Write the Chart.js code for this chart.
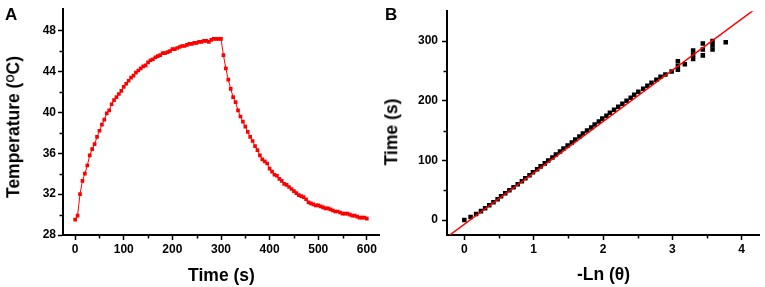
<!DOCTYPE html>
<html><head><meta charset="utf-8">
<script src="https://cdn.jsdelivr.net/npm/chart.js@4.4.1/dist/chart.umd.min.js"></script>
<style>
html,body{margin:0;padding:0;background:#fff;width:765px;height:287px;overflow:hidden;position:relative;font-family:"Liberation Sans",Arial,sans-serif;}
canvas{position:absolute;top:0;}
#cA{left:0}
#cB{left:383px}
.lbl{position:absolute;font-weight:bold;color:#000;white-space:nowrap;line-height:1;}
.panel{font-size:17px;}
.title{font-size:17.5px;transform:translate(-50%,-50%);}
.rot{transform:translate(-50%,-50%) rotate(-90deg);}
sup{font-size:0.6em;position:relative;top:-0.45em;vertical-align:baseline;}
</style></head><body>
<canvas id="cA" width="383" height="287"></canvas>
<canvas id="cB" width="382" height="287"></canvas>
<div class="lbl panel" style="left:5px;top:6px">A</div>
<div class="lbl panel" style="left:385px;top:6px">B</div>
<div class="lbl title rot" style="left:14px;top:127px">Temperature (<sup>O</sup>C)</div>
<div class="lbl title" style="left:221.5px;top:276px">Time (s)</div>
<div class="lbl title rot" style="left:392px;top:132px">Time (s)</div>
<div class="lbl title" style="left:603.5px;top:275px">-Ln (θ)</div>
<script>
// ---- Panel A: heating / cooling curve ----
const heatTime = [0,5,10,15,20,25,30,35,40,45,50,55,60,65,70,75,80,85,90,95,100,105,110,115,120,125,130,135,140,145,150,155,160,165,170,175,180,185,190,195,200,205,210,215,220,225,230,235,240,245,250,255,260,265,270,275,280,285,290,295,300];
const heatTemp = [29.5,29.9,32.0,33.3,34.0,34.8,35.8,36.4,36.9,37.6,38.2,38.8,39.3,39.9,40.2,40.8,41.2,41.5,41.8,42.1,42.5,42.8,43.1,43.4,43.6,43.9,44.1,44.3,44.5,44.6,44.9,45.1,45.2,45.4,45.5,45.6,45.8,45.8,45.9,46.0,46.2,46.2,46.3,46.4,46.5,46.5,46.6,46.7,46.7,46.8,46.8,46.9,46.9,47.0,47.0,46.9,47.1,47.2,47.2,47.2,47.2];
const coolTime = [305,310,315,320,325,330,335,340,345,350,355,360,365,370,375,380,385,390,395,400,405,410,415,420,425,430,435,440,445,450,455,460,465,470,475,480,485,490,495,500,505,510,515,520,525,530,535,540,545,550,555,560,565,570,575,580,585,590,595,600];
const coolTemp = [45.6,44.3,43.2,42.3,41.5,41.0,40.2,39.6,39.1,38.6,38.1,37.6,37.2,36.7,36.3,35.8,35.4,35.2,35.0,34.5,34.2,33.9,33.8,33.5,33.3,33.0,32.9,32.7,32.5,32.3,32.1,31.9,31.8,31.7,31.5,31.2,31.1,31.0,30.9,30.9,30.8,30.7,30.6,30.6,30.5,30.4,30.3,30.3,30.2,30.1,30.1,30.1,30.0,29.9,29.9,29.8,29.7,29.7,29.7,29.6];
const xTicksA = [0,100,200,300,400,500,600];
const xMinorA = [50,150,250,350,450,550];
const yTicksA = [28,32,36,40,44,48];
const yMinorA = [30,34,38,42,46];

// ---- Panel B: time vs -ln(theta) ----
const bLn = [0.00,0.09,0.17,0.24,0.30,0.36,0.42,0.48,0.53,0.59,0.65,0.71,0.77,0.83,0.88,0.94,0.99,1.05,1.10,1.16,1.21,1.27,1.32,1.38,1.43,1.49,1.55,1.60,1.66,1.71,1.77,1.83,1.88,1.94,1.99,2.05,2.10,2.16,2.22,2.28,2.34,2.40,2.45,2.51,2.58,2.64,2.70,2.77,2.83,
  2.90,2.99,3.08,3.08,3.08,3.18,3.30,3.30,3.30,3.44,3.44,3.44,3.58,3.58,3.58,3.77];
const bTime = [0,5,10,15,20,25,30,35,40,45,50,55,60,65,70,75,80,85,90,95,100,105,110,115,120,125,130,135,140,145,150,155,160,165,170,175,180,185,190,195,200,205,210,215,220,225,230,235,240,
  244,249,252,258,266,261,270,277,284,276,286,296,286,293,300,298];
const fitLn = [-0.22, 4.17];
const fitTime = [-25.9, 351.6];
const xTicksB = [0,1,2,3,4];
const xMinorB = [0.5,1.5,2.5,3.5];
const yTicksB = [0,100,200,300];
const yMinorB = [50,150,250];

const FONT = '"Liberation Sans", Arial, sans-serif';
const tickFont = {family: FONT, size: 12, weight: 'bold'};

const minorTicks = {
  id: 'minorTicks',
  afterDraw(chart, args, opts) {
    const ctx = chart.ctx;
    ctx.save();
    ctx.strokeStyle = '#000';
    ctx.lineWidth = 1.5;
    const xs = chart.scales.x, ys = chart.scales.y;
    (opts.x || []).forEach(v => {
      const p = Math.round(xs.getPixelForValue(v)) + 0.5;
      ctx.beginPath(); ctx.moveTo(p, xs.top); ctx.lineTo(p, xs.top + 3.5); ctx.stroke();
    });
    (opts.y || []).forEach(v => {
      const p = Math.round(ys.getPixelForValue(v)) + 0.5;
      ctx.beginPath(); ctx.moveTo(ys.right, p); ctx.lineTo(ys.right - 3.5, p); ctx.stroke();
    });
    ctx.restore();
  }
};

function axis(min, max, ticks, fitSize, isX, pad) {
  return {
    type: 'linear', min: min, max: max,
    afterBuildTicks: s => { s.ticks = ticks.map(v => ({value: v})); },
    afterFit: s => { if (isX) s.height = fitSize; else s.width = fitSize; },
    grid: {drawOnChartArea: false, drawTicks: true, tickLength: 5, tickColor: '#000', tickWidth: 1.5},
    border: {display: true, color: '#000', width: 2},
    ticks: {font: tickFont, color: '#000', padding: pad, maxRotation: 0, autoSkip: false, callback: v => String(v)}
  };
}

new Chart(document.getElementById('cA'), {
  type: 'line',
  data: {datasets: [{
    data: heatTime.map((t, i) => ({x: t, y: heatTemp[i]})).concat(coolTime.map((t, i) => ({x: t, y: coolTemp[i]}))),
    borderColor: '#ff0000', backgroundColor: '#ff0000', borderWidth: 1,
    pointStyle: 'rect', pointRadius: 2.6, pointBorderWidth: 0, tension: 0
  }]},
  options: {
    responsive: false, animation: false,
    layout: {padding: {top: 6, right: 3, left: 0, bottom: 0}},
    plugins: {legend: {display: false}, tooltip: {enabled: false}, minorTicks: {x: xMinorA, y: yMinorA}},
    scales: {x: axis(-25, 625, xTicksA, 52, true, 2), y: axis(28, 50.1, yTicksA, 63, false, 2)}
  },
  plugins: [minorTicks]
});

new Chart(document.getElementById('cB'), {
  type: 'scatter',
  data: {datasets: [
    {data: fitLn.map((x, i) => ({x: x, y: fitTime[i]})), type: 'line', showLine: true,
     borderColor: '#ff0000', borderWidth: 1.5, pointRadius: 0, order: 0, tension: 0},
    {data: bLn.map((x, i) => ({x: x, y: bTime[i]})), showLine: false,
     backgroundColor: '#000', borderColor: '#000', pointStyle: 'rect', pointRadius: 3.2, pointBorderWidth: 0, order: 1}
  ]},
  options: {
    responsive: false, animation: false,
    layout: {padding: {top: 7, right: 6, left: 0, bottom: 0}},
    plugins: {legend: {display: false}, tooltip: {enabled: false}, minorTicks: {x: xMinorB, y: yMinorB}},
    scales: {x: axis(-0.25, 4.25, xTicksB, 52, true, 2), y: axis(-25, 350, yTicksB, 64, false, 4)}
  },
  plugins: [minorTicks]
});
</script>
</body></html>
